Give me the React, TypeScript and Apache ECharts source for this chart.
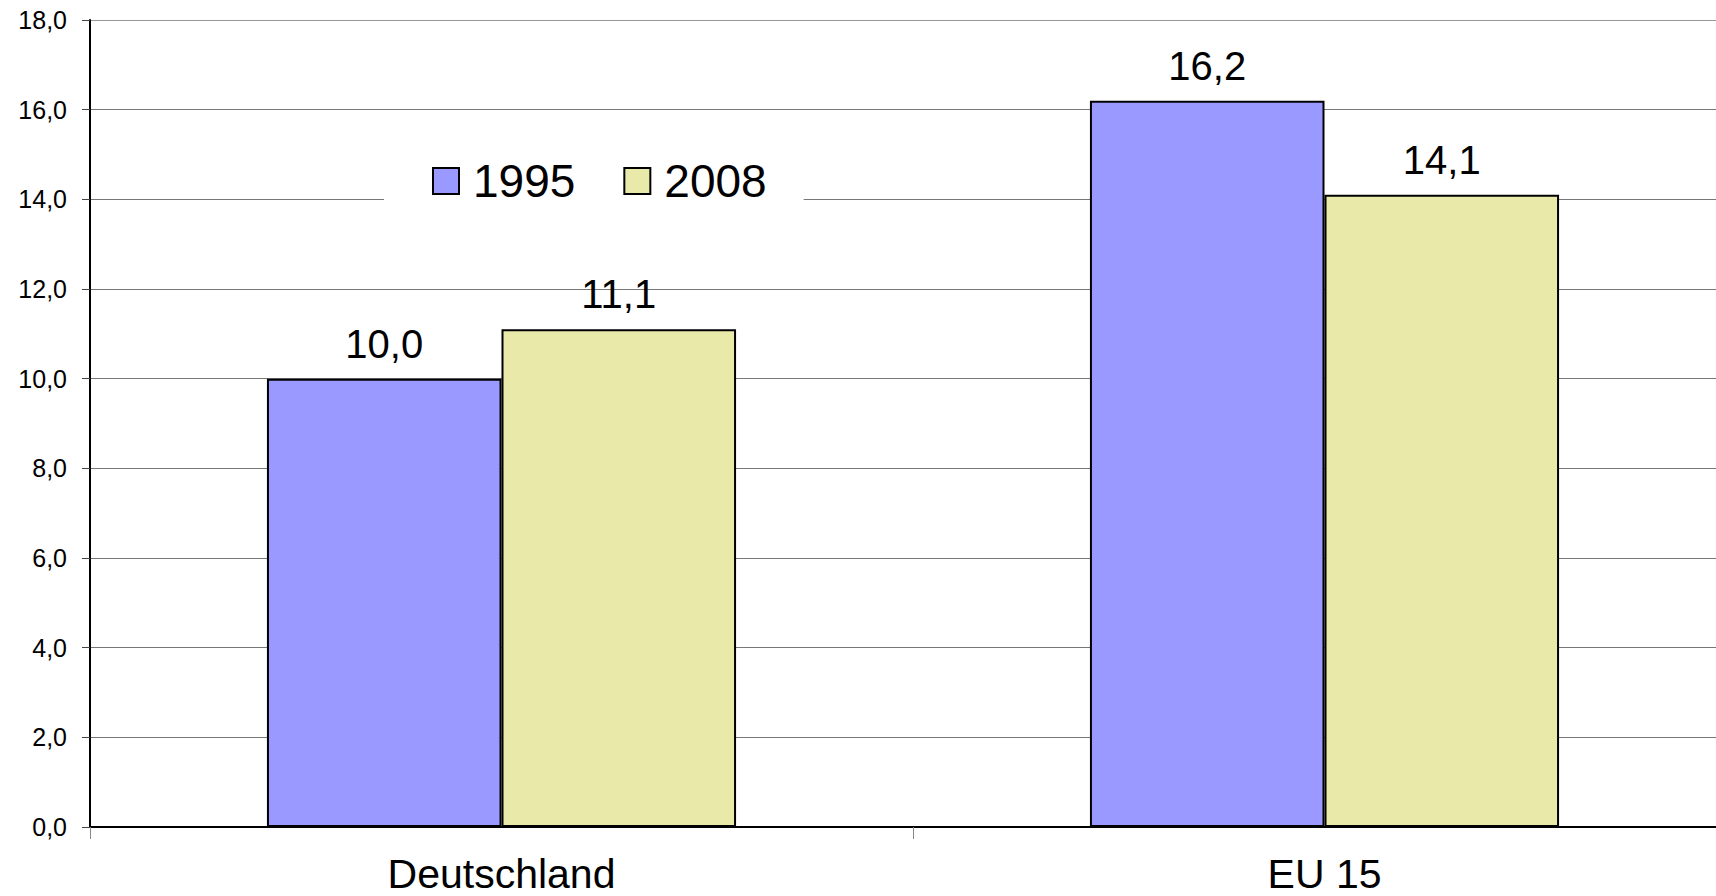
import React, { useEffect, useRef } from "react";
import * as echarts from "echarts";

const categories = ["Deutschland", "EU 15"];
const seriesNames = ["1995", "2008"];
const values1995 = [10.0, 16.2];
const values2008 = [11.1, 14.1];
const yTicks = { min: 0, max: 18, interval: 2 };

const FONT = "'Liberation Sans', Arial, sans-serif";
const fmt = (v: number) => v.toFixed(1).replace(".", ",");

export default function App() {
  const ref = useRef<HTMLDivElement>(null);
  useEffect(() => {
    document.body.style.margin = "0";
    if (!ref.current) return;
    const chart = echarts.init(ref.current, null, { renderer: "svg" });
    const barLabel = {
      show: true,
      position: "top" as const,
      distance: 15,
      color: "#000",
      fontSize: 40,
      fontFamily: FONT,
      formatter: (p: any) => fmt(p.value),
    };
    chart.setOption({
      animation: false,
      backgroundColor: "#fff",
      grid: { left: 90, top: 20, right: -20, bottom: 69, containLabel: false, outerBoundsMode: "none" },
      legend: {
        data: seriesNames,
        left: 384,
        top: 148,
        orient: "horizontal",
        icon: "rect",
        itemWidth: 26,
        itemHeight: 26,
        itemGap: 48,
        padding: [10, 37, 10, 48],
        backgroundColor: "#fff",
        textStyle: { fontSize: 46, color: "#000", fontFamily: FONT, padding: [0, 0, 0, 9] },
        itemStyle: { borderColor: "#000", borderWidth: 2 },
      },
      xAxis: {
        type: "category",
        data: categories,
        axisLine: { show: true, lineStyle: { color: "#000", width: 2 } },
        axisTick: { show: true, length: 12, lineStyle: { color: "#888", width: 1 } },
        axisLabel: {
          show: true,
          margin: 28,
          color: "#000",
          fontSize: 41,
          lineHeight: 38,
          fontFamily: FONT,
        },
        splitLine: { show: false },
      },
      yAxis: {
        type: "value",
        min: yTicks.min,
        max: yTicks.max,
        interval: yTicks.interval,
        axisLine: { show: true, lineStyle: { color: "#000", width: 2 } },
        axisTick: { show: true, length: 8, inside: false, lineStyle: { color: "#444", width: 1 } },
        axisLabel: {
          margin: 23,
          color: "#000",
          fontSize: 25,
          fontFamily: FONT,
          formatter: (v: number) => fmt(v),
        },
        splitLine: {
          show: true,
          lineStyle: {
            color: ["#777", "#777", "#777", "#777", "#777", "#777", "#777", "#777", "#777", "#999"],
            width: 1,
          },
        },
      },
      series: [
        {
          name: seriesNames[0],
          type: "bar",
          data: values1995,
          barGap: "0%",
          barCategoryGap: "43%",
          itemStyle: { color: "#9999FF", borderColor: "#000", borderWidth: 2 },
          label: barLabel,
        },
        {
          name: seriesNames[1],
          type: "bar",
          data: values2008,
          barGap: "0%",
          barCategoryGap: "43%",
          itemStyle: { color: "#E9E9A9", borderColor: "#000", borderWidth: 2 },
          label: barLabel,
        },
      ],
    });
    return () => chart.dispose();
  }, []);
  return <div ref={ref} style={{ width: 1716, height: 896 }} />;
}
